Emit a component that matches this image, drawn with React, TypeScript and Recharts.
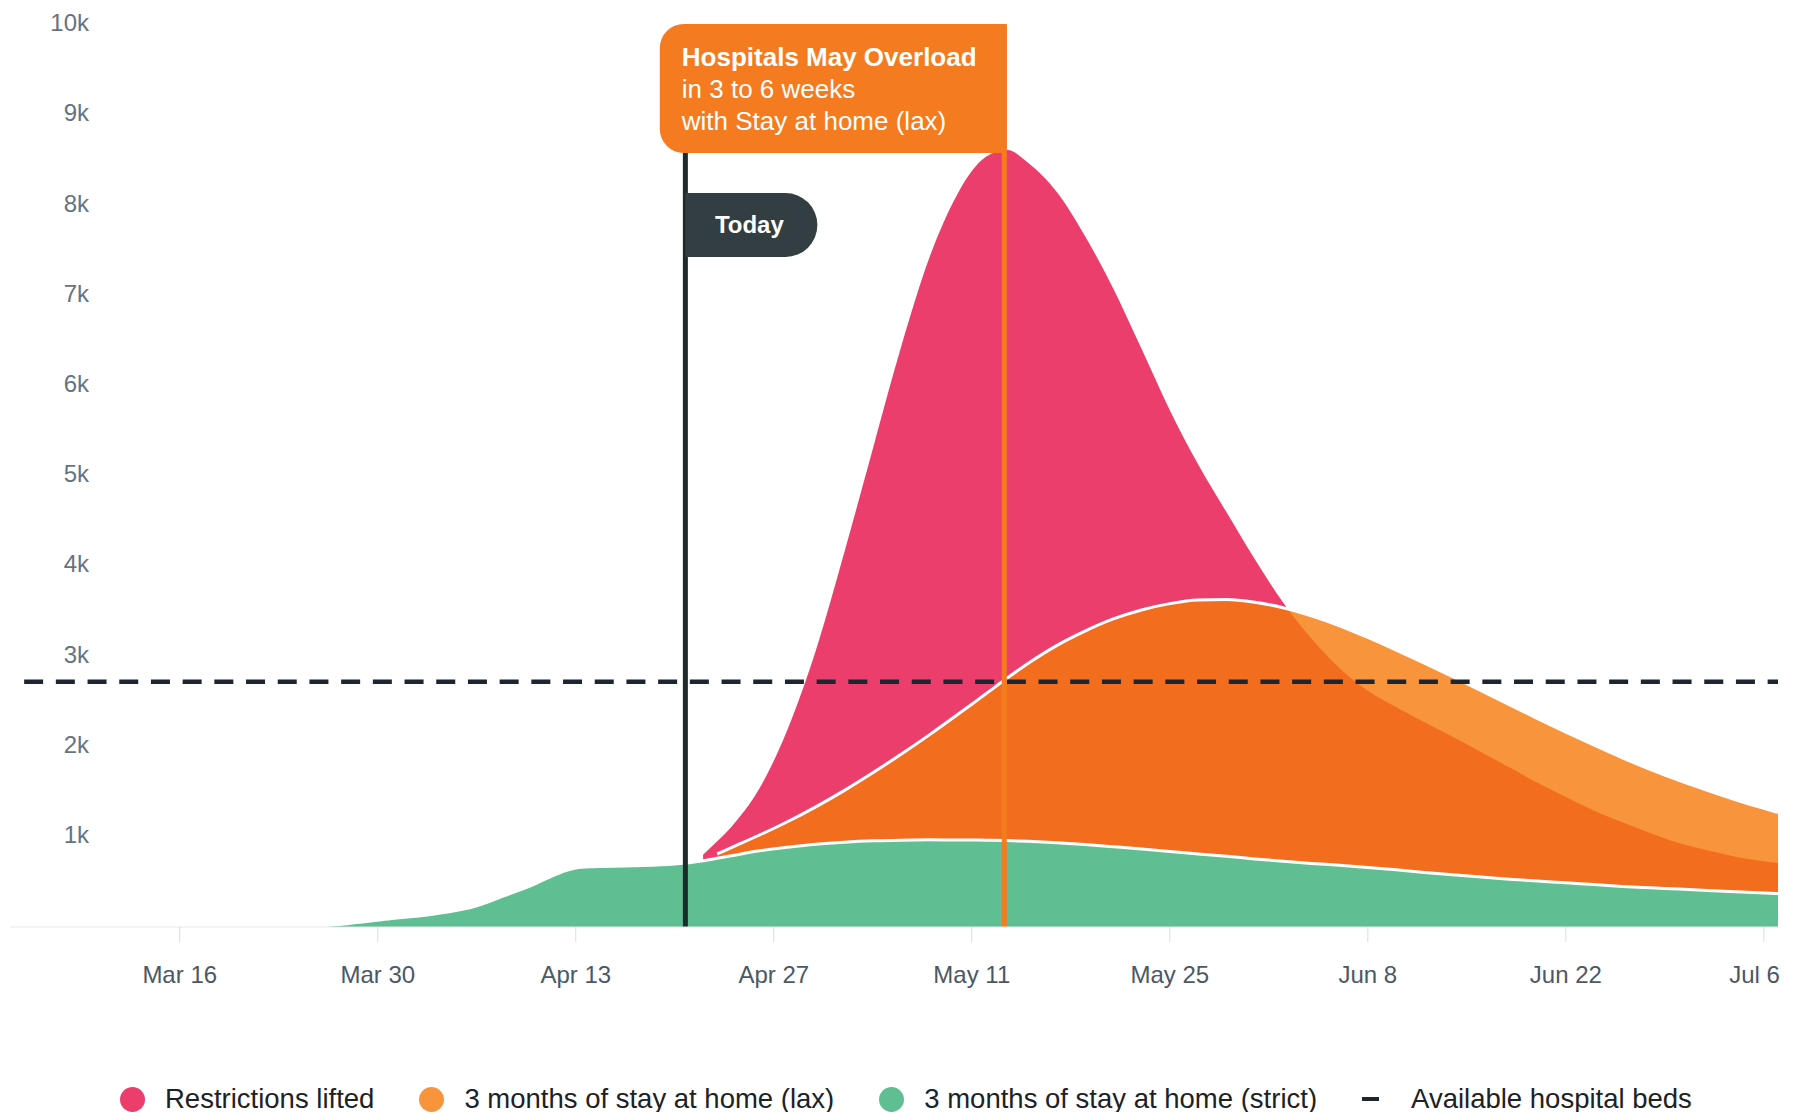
import React from 'react';
import { ComposedChart, Area, Line, XAxis, YAxis, ReferenceLine, Legend } from 'recharts';

// x positions are days counted from Mar 1 (Mar 16 = 15)
const days = [
  3, 4, 24, 27, 30, 33, 36, 38, 40, 42, 43,
  44, 47, 50, 52, 53, 54, 56, 58, 60, 62,
  64, 66, 68, 70, 71, 72, 73.5, 75, 77, 79,
  81, 83, 85, 87, 89, 91, 93, 95, 97, 99,
  101, 103, 105, 107, 109, 111, 113, 115, 117, 119,
  121, 123, 125, 128,
];

const strict = [
  null, null, 0, 40, 95, 145, 235, 350, 470, 610, 655,
  668, 678, 698, 735, 762, 790, 845, 885, 918, 940,
  955, 963, 966, 965, 964, 962, 958, 950, 935, 915,
  890, 865, 838, 810, 785, 755, 730, 705, 685, 660,
  635, 605, 578, 555, 530, 510, 490, 470, 450, 435,
  420, 405, 390, 370,
];

const lax = [
  null, null, null, null, null, null, null, null, null, null, null,
  null, null, null, null, 810, 880, 1020, 1170, 1335, 1515,
  1710, 1915, 2130, 2355, 2470, 2585, 2760, 2925, 3120, 3280,
  3415, 3515, 3585, 3625, 3630, 3600, 3540, 3450, 3340, 3210,
  3070, 2925, 2775, 2620, 2465, 2310, 2160, 2015, 1875, 1745,
  1625, 1515, 1410, 1270,
];

const lifted = [
  null, null, null, null, null, null, null, null, null, null, null,
  null, null, null, 800, 950, 1110, 1540, 2200, 3080, 4160,
  5300, 6430, 7420, 8130, 8380, 8540, 8615, 8470, 8150, 7660,
  7080, 6410, 5730, 5130, 4600, 4080, 3600, 3200, 2870, 2620,
  2440, 2270, 2110, 1940, 1770, 1600, 1440, 1290, 1160, 1040,
  930, 850, 780, 710,
];

const HOSPITAL_BEDS = 2720;
const BEDS_FROM = 4;
const TODAY = 50.75;
const OVERLOAD_DAY = 73.3;

const tickDays = [15, 29, 43, 57, 71, 85, 99, 113, 127];
const tickLabels = ['Mar 16', 'Mar 30', 'Apr 13', 'Apr 27', 'May 11', 'May 25', 'Jun 8', 'Jun 22', 'Jul 6'];
const yTicks = [1000, 2000, 3000, 4000, 5000, 6000, 7000, 8000, 9000, 10000];

const PINK = '#ec3e6c';
const ORANGE = '#f5790b';
const GREEN = '#5fbf92';
const DARK = '#1d2530';
const FONT = '"Liberation Sans", Arial, sans-serif';

const data = days.map((day, i) => ({
  day,
  lifted: lifted[i],
  lax: lax[i],
  strict: strict[i],
  beds: day >= BEDS_FROM ? HOSPITAL_BEDS : null,
}));

const legendOrder = ['lifted', 'lax', 'strict', 'beds'];
const legendColors: Record<string, string> = { lifted: PINK, lax: ORANGE, strict: GREEN, beds: DARK };
const legendOpacity: Record<string, number> = { lifted: 1, lax: 0.8, strict: 1, beds: 1 };

// y labels sit inside the plot, right-aligned a little past the left edge
const YTick = ({ x, y, payload }: any) => (
  <text x={x + 79} y={y} dy="0.26em" textAnchor="end" fontSize={24} fill="#66737f" fontFamily={FONT}>
    {`${payload.value / 1000}k`}
  </text>
);

const XTick = ({ x, y, payload }: any) => {
  const idx = tickDays.indexOf(payload.value);
  const last = idx === tickDays.length - 1;
  return (
    <text
      x={last ? x + 16 : x}
      y={y}
      dy="0.71em"
      textAnchor={last ? 'end' : 'middle'}
      fontSize={24}
      fill="#4b5866"
      fontFamily={FONT}
    >
      {tickLabels[idx]}
    </text>
  );
};

const TodayFlag = ({ viewBox }: any) => {
  const { x, y } = viewBox;
  const top = y + 168;
  const h = 64;
  const r = 32;
  const right = x + 132;
  return (
    <g>
      <path d={`M${x},${top} H${right - r} A${r},${r} 0 0 1 ${right - r},${top + h} H${x} Z`} fill="#323e42" />
      <text x={x + 64} y={top + h / 2} dy="0.35em" textAnchor="middle" fill="#fff" fontSize={24} fontWeight="bold" fontFamily={FONT}>
        Today
      </text>
    </g>
  );
};

const OverloadBox = ({ viewBox }: any) => {
  const { x, y } = viewBox;
  const left = x - 344.5;
  const right = x + 2.5;
  const top = y - 1;
  const bottom = y + 128;
  const r = 24;
  const tx = x - 322.5;
  return (
    <g>
      <path
        d={`M${right},${top} H${left + r} A${r},${r} 0 0 0 ${left},${top + r} V${bottom - r} A${r},${r} 0 0 0 ${left + r},${bottom} H${right} Z`}
        fill="#f47b20"
      />
      <g fill="#fff" fontSize={26} fontFamily={FONT}>
        <text x={tx} y={y + 41} fontWeight="bold">Hospitals May Overload</text>
        <text x={tx} y={y + 73}>in 3 to 6 weeks</text>
        <text x={tx} y={y + 105}>with Stay at home (lax)</text>
      </g>
    </g>
  );
};

const renderLegend = (props: any) => {
  const items = [...(props.payload || [])].sort(
    (a: any, b: any) => legendOrder.indexOf(a.dataKey) - legendOrder.indexOf(b.dataKey)
  );
  return (
    <div style={{ display: 'flex', alignItems: 'center', paddingLeft: 112, fontFamily: FONT, fontSize: 27.5, lineHeight: '30px', color: '#1c2226' }}>
      {items.map((item: any, i: number) => (
        <div key={item.dataKey} style={{ display: 'flex', alignItems: 'center', marginRight: i < items.length - 1 ? 45 : 0 }}>
          {item.dataKey === 'beds' ? (
            <span style={{ display: 'inline-block', width: 17, height: 4, background: DARK, marginRight: 32 }} />
          ) : (
            <span
              style={{
                display: 'inline-block',
                width: 25,
                height: 25,
                borderRadius: '50%',
                background: legendColors[item.dataKey],
                opacity: legendOpacity[item.dataKey],
                marginRight: 20,
              }}
            />
          )}
          <span>{item.value}</span>
        </div>
      ))}
    </div>
  );
};

export default function App() {
  return (
    <ComposedChart
      width={1780}
      height={1104}
      data={data}
      margin={{ top: 17, right: 10, bottom: 125, left: 1 }}
      style={{ fontFamily: FONT }}
    >
      <XAxis
        dataKey="day"
        type="number"
        domain={[3, 128]}
        ticks={tickDays}
        tick={<XTick />}
        height={60}
        tickSize={15}
        tickMargin={24}
        stroke="#e3e7eb"
        tickLine={{ stroke: '#d6dee6' }}
      />
      <YAxis
        type="number"
        domain={[0, 10000]}
        ticks={yTicks}
        width={1}
        axisLine={false}
        tickLine={false}
        tickSize={0}
        tickMargin={0}
        tick={<YTick />}
      />
      <Legend
        layout="vertical"
        align="center"
        verticalAlign="middle"
        wrapperStyle={{ top: 1076, left: 0, width: 1780 }}
        content={renderLegend}
      />
      <Area
        type="monotone"
        dataKey="lifted"
        name="Restrictions lifted"
        fill={PINK}
        fillOpacity={1}
        stroke="none"
        legendType="circle"
        isAnimationActive={false}
        activeDot={false}
      />
      <Area
        type="monotone"
        dataKey="lax"
        name="3 months of stay at home (lax)"
        fill={ORANGE}
        fillOpacity={0.8}
        stroke="#ffffff"
        strokeWidth={3}
        legendType="circle"
        isAnimationActive={false}
        activeDot={false}
      />
      <Area
        type="monotone"
        dataKey="strict"
        name="3 months of stay at home (strict)"
        fill={GREEN}
        fillOpacity={1}
        stroke="#ffffff"
        strokeWidth={3}
        legendType="circle"
        isAnimationActive={false}
        activeDot={false}
      />
      <Line
        type="linear"
        dataKey="beds"
        name="Available hospital beds"
        stroke={DARK}
        strokeWidth={4.5}
        strokeDasharray="19 12.7"
        dot={false}
        activeDot={false}
        legendType="plainline"
        isAnimationActive={false}
      />
      <ReferenceLine x={TODAY} stroke="#1e2b2b" strokeWidth={5} label={<TodayFlag />} />
      <ReferenceLine x={OVERLOAD_DAY} stroke="#f57c1e" strokeWidth={5} label={<OverloadBox />} />
    </ComposedChart>
  );
}
